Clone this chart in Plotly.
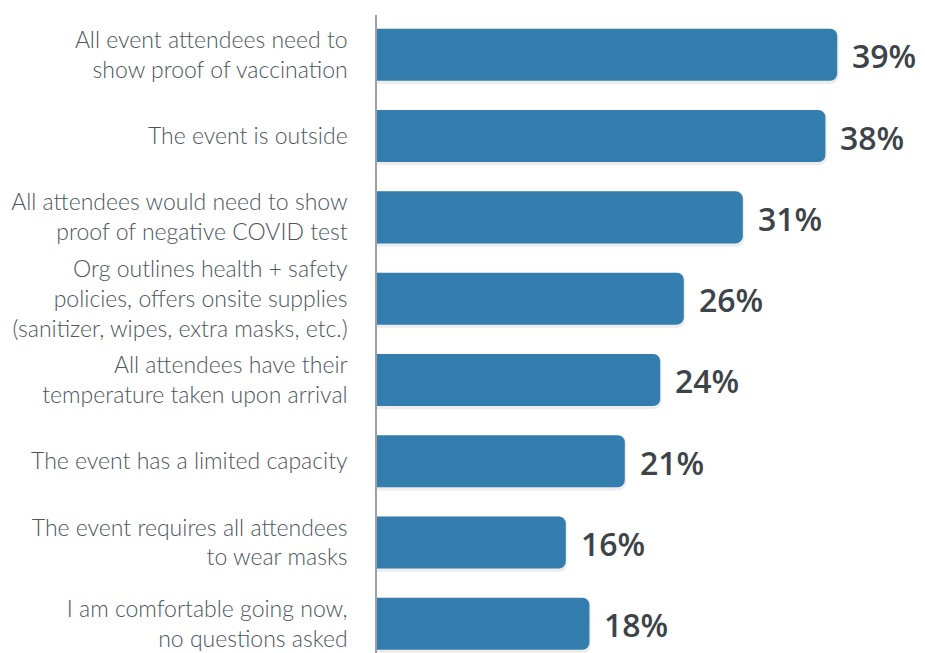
import plotly.graph_objects as go

# Survey: conditions that would make respondents comfortable attending an event
categories = [
    "All event attendees need to<br>show proof of vaccination",
    "The event is outside",
    "All attendees would need to show<br>proof of negative COVID test",
    "Org outlines health + safety<br>policies, offers onsite supplies<br>(sanitizer, wipes, extra masks, etc.)",
    "All attendees have their<br>temperature taken upon arrival",
    "The event has a limited capacity",
    "The event requires all attendees<br>to wear masks",
    "I am comfortable going now,<br>no questions asked",
]
values = [39, 38, 31, 26, 24, 21, 16, 18]
value_labels = [f"{v}%" for v in values]

BAR_COLOR = "#347daf"
LABEL_COLOR = "#4d565c"
VALUE_COLOR = "#3d4449"

positions = list(range(len(categories)))

fig = go.Figure()

# soft drop shadow behind each bar
fig.add_trace(go.Bar(
    y=positions, x=[v + 0.12 for v in values], orientation="h",
    width=0.68, offset=-0.32,
    marker=dict(color="rgba(0,0,0,0.07)", line=dict(width=0), cornerradius=8),
    hoverinfo="skip", showlegend=False,
))

fig.add_trace(go.Bar(
    y=positions, x=values, orientation="h",
    width=0.64,
    marker=dict(color=BAR_COLOR, line=dict(width=0), cornerradius=7),
    showlegend=False,
))

for pos, v, lab in zip(positions, values, value_labels):
    fig.add_annotation(
        x=v, y=pos, text=lab, showarrow=False,
        xanchor="left", yanchor="middle", xshift=13, yshift=-1,
        font=dict(family="Open Sans", size=32, color=VALUE_COLOR, weight=600),
    )

fig.update_layout(
    width=925, height=653,
    margin=dict(l=377, r=0, t=15, b=0),
    plot_bgcolor="white", paper_bgcolor="white",
    barmode="overlay",
    xaxis=dict(range=[0, 46.44], showgrid=False, zeroline=False,
               showticklabels=False, showline=False, fixedrange=True),
    yaxis=dict(
        tickmode="array", tickvals=positions, ticktext=categories,
        range=[7.36, -0.49], showgrid=False, zeroline=False,
        showline=True, linecolor="#a0a0a0", linewidth=1.5,
        ticks="", ticklabelstandoff=23,
        tickfont=dict(family="Lato", size=23, color=LABEL_COLOR, weight=300),
    ),
    font=dict(family="Lato"),
)

fig.write_html("out.html")
